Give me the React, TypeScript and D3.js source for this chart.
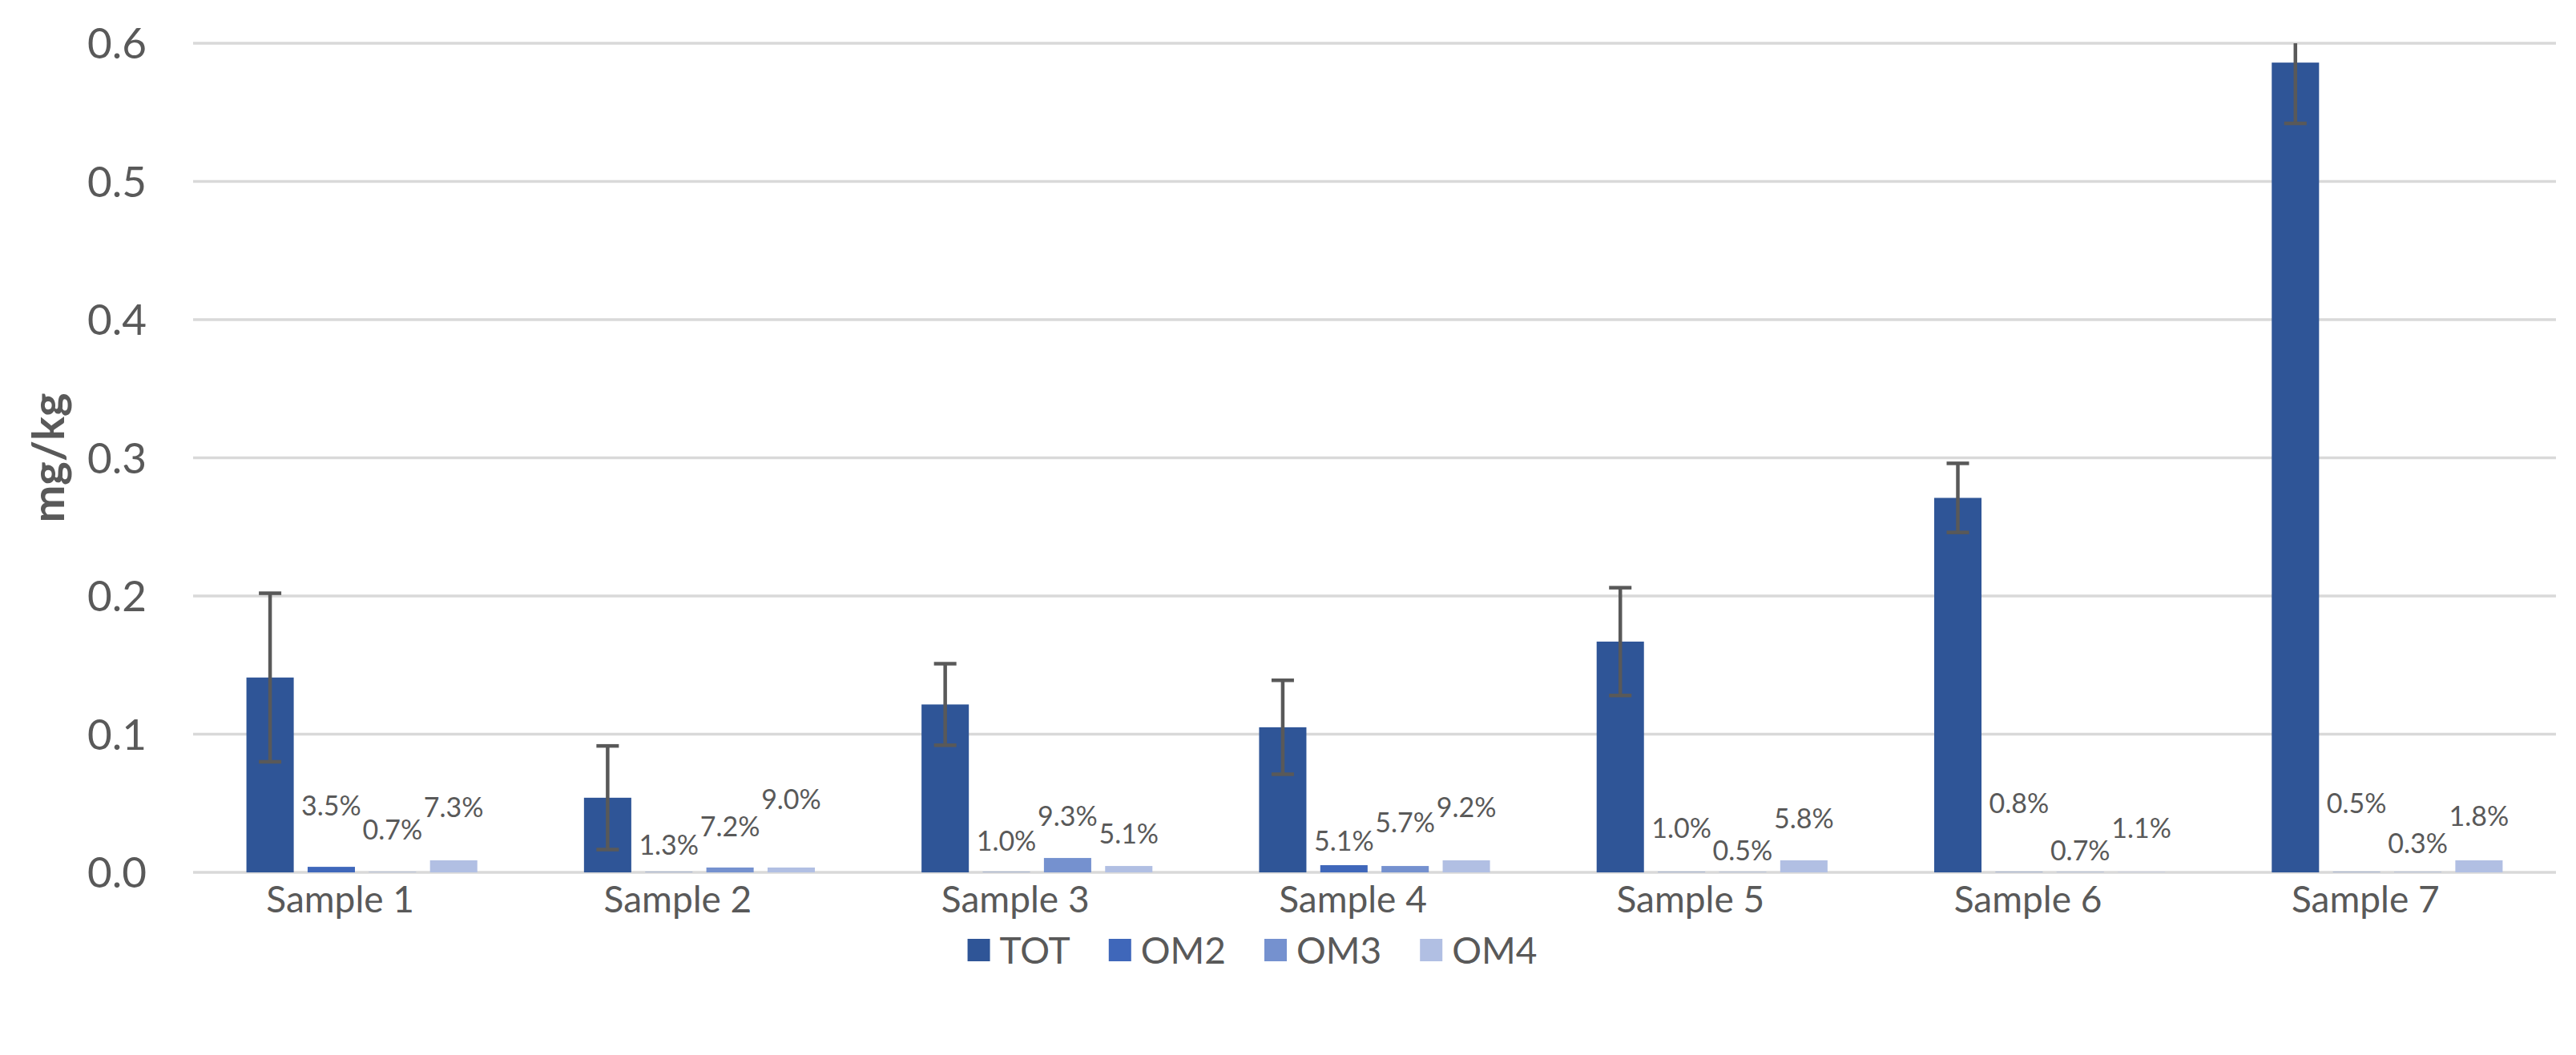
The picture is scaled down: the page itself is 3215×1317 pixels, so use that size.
import React, { useEffect, useRef } from "react";
import * as d3 from "d3";

// categories and series
const categories = ["Sample 1", "Sample 2", "Sample 3", "Sample 4", "Sample 5", "Sample 6", "Sample 7"];
const seriesNames = ["TOT", "OM2", "OM3", "OM4"];

// mg/kg values
const tot = [0.141, 0.054, 0.1215, 0.105, 0.167, 0.271, 0.586];
const totErr = [0.061, 0.0375, 0.0295, 0.034, 0.039, 0.025, 0.044];
const om2 = [0.004, 0.0002, 0.0002, 0.0052, 0.0002, 0.0002, 0.0002];
const om3 = [0.0002, 0.0035, 0.0104, 0.0046, 0.0002, 0.0002, 0.0002];
const om4 = [0.0087, 0.0035, 0.0046, 0.0087, 0.0087, 0.0002, 0.0087];

// percentage labels shown above the small bars
const om2Labels = ["3.5%", "1.3%", "1.0%", "5.1%", "1.0%", "0.8%", "0.5%"];
const om3Labels = ["0.7%", "7.2%", "9.3%", "5.7%", "0.5%", "0.7%", "0.3%"];
const om4Labels = ["7.3%", "9.0%", "5.1%", "9.2%", "5.8%", "1.1%", "1.8%"];

// where each label sits, in axis units (labels were moved by hand in the original)
const om2LabelAt = [0.048, 0.02, 0.023, 0.023, 0.032, 0.05, 0.05];
const om3LabelAt = [0.031, 0.033, 0.041, 0.036, 0.016, 0.016, 0.021];
const om4LabelAt = [0.047, 0.053, 0.028, 0.047, 0.039, 0.032, 0.041];

const yTicks = [0, 0.1, 0.2, 0.3, 0.4, 0.5, 0.6];

const colors = ["#2F5597", "#3F67BA", "#7591CF", "#B1BFE3"];

const App: React.FC = () => {
  const ref = useRef<HTMLDivElement>(null);

  useEffect(() => {
    if (!ref.current) return;
    document.body.style.margin = "0";
    d3.select(ref.current).selectAll("svg").remove();

    const width = 3215;
    const height = 1317;
    const plot = { left: 241, right: 3190, top: 54, bottom: 1089 };
    const font = "Lato, 'Open Sans', sans-serif";
    const textColor = "#595959";

    const svg = d3
      .select(ref.current)
      .append("svg")
      .attr("width", width)
      .attr("height", height)
      .style("display", "block")
      .style("background", "#fff");

    const x0 = d3
      .scaleBand<string>()
      .domain(categories)
      .range([plot.left, plot.right])
      .paddingInner(0.316)
      .paddingOuter(0.158);

    const x1 = d3
      .scaleBand<string>()
      .domain(seriesNames)
      .range([0, x0.bandwidth()])
      .paddingInner(0.227)
      .paddingOuter(0);

    const y = d3.scaleLinear().domain([0, 0.6]).range([plot.bottom, plot.top]);

    // gridlines
    svg
      .append("g")
      .selectAll("line")
      .data(yTicks)
      .join("line")
      .attr("x1", plot.left)
      .attr("x2", plot.right)
      .attr("y1", (d) => y(d))
      .attr("y2", (d) => y(d))
      .attr("stroke", "#D9D9D9")
      .attr("stroke-width", 3.5);

    // y tick labels
    svg
      .append("g")
      .selectAll("text")
      .data(yTicks)
      .join("text")
      .attr("x", 183)
      .attr("y", (d) => y(d))
      .attr("dy", "0.36em")
      .attr("text-anchor", "end")
      .attr("font-family", font)
      .attr("font-size", 53)
      .attr("fill", textColor)
      .text((d) => d3.format(".1f")(d));

    // y axis title
    svg
      .append("text")
      .attr("transform", `translate(60, ${(plot.top + plot.bottom) / 2}) rotate(-90)`)
      .attr("text-anchor", "middle")
      .attr("dy", "0.35em")
      .attr("font-family", font)
      .attr("font-size", 56)
      .attr("font-weight", 700)
      .attr("fill", textColor)
      .text("mg/kg");

    // bars
    const seriesValues = [tot, om2, om3, om4];
    const barData = categories.flatMap((c, i) =>
      seriesNames.map((s, j) => ({ cat: c, series: s, value: seriesValues[j][i], color: colors[j] }))
    );

    svg
      .append("g")
      .selectAll("rect")
      .data(barData)
      .join("rect")
      .attr("x", (d) => (x0(d.cat) as number) + (x1(d.series) as number))
      .attr("y", (d) => y(d.value))
      .attr("width", x1.bandwidth())
      .attr("height", (d) => y(0) - y(d.value))
      .attr("fill", (d) => d.color);

    // error bars on TOT
    const capW = 28;
    const errG = svg.append("g").attr("stroke", "#595959").attr("stroke-width", 4.5);
    categories.forEach((c, i) => {
      const cx = (x0(c) as number) + (x1("TOT") as number) + x1.bandwidth() / 2;
      const hiRaw = tot[i] + totErr[i];
      const hi = Math.min(hiRaw, 0.6);
      const lo = tot[i] - totErr[i];
      errG.append("line").attr("x1", cx).attr("x2", cx).attr("y1", y(hi)).attr("y2", y(lo));
      errG.append("line").attr("x1", cx - capW / 2).attr("x2", cx + capW / 2).attr("y1", y(lo)).attr("y2", y(lo));
      if (hiRaw <= 0.6) {
        errG.append("line").attr("x1", cx - capW / 2).attr("x2", cx + capW / 2).attr("y1", y(hi)).attr("y2", y(hi));
      }
    });

    // percentage labels
    const labelSets = [
      { series: "OM2", labels: om2Labels, at: om2LabelAt },
      { series: "OM3", labels: om3Labels, at: om3LabelAt },
      { series: "OM4", labels: om4Labels, at: om4LabelAt },
    ];
    const labelG = svg.append("g");
    labelSets.forEach((set) => {
      labelG
        .selectAll(null)
        .data(categories)
        .join("text")
        .attr("x", (c) => (x0(c) as number) + (x1(set.series) as number) + x1.bandwidth() / 2)
        .attr("y", (_c, i) => y(set.at[i]))
        .attr("dy", "0.36em")
        .attr("text-anchor", "middle")
        .attr("font-family", font)
        .attr("font-size", 34)
        .attr("fill", textColor)
        .text((_c, i) => set.labels[i]);
    });

    // category labels
    svg
      .append("g")
      .selectAll("text")
      .data(categories)
      .join("text")
      .attr("x", (c) => (x0(c) as number) + x0.bandwidth() / 2 - 27)
      .attr("y", 1122)
      .attr("dy", "0.36em")
      .attr("text-anchor", "middle")
      .attr("font-family", font)
      .attr("font-size", 46)
      .attr("fill", textColor)
      .text((c) => c);

    // legend
    const legend = svg.append("g");
    const sw = 28;
    const items = seriesNames.map((s, i) => {
      const g = legend.append("g");
      g.append("rect").attr("x", 0).attr("y", -sw / 2).attr("width", sw).attr("height", sw).attr("fill", colors[i]);
      const t = g
        .append("text")
        .attr("x", sw + 12)
        .attr("dy", "0.36em")
        .attr("font-family", font)
        .attr("font-size", 46)
        .attr("fill", textColor)
        .text(s);
      const w = sw + 12 + (t.node() as SVGTextElement).getComputedTextLength();
      return { g, w };
    });
    const gap = 48;
    const total = d3.sum(items, (d) => d.w) + gap * (items.length - 1);
    let cx = 1563 - total / 2;
    items.forEach((it) => {
      it.g.attr("transform", `translate(${cx}, 1186)`);
      cx += it.w + gap;
    });
  }, []);

  return <div ref={ref} />;
};

export default App;
